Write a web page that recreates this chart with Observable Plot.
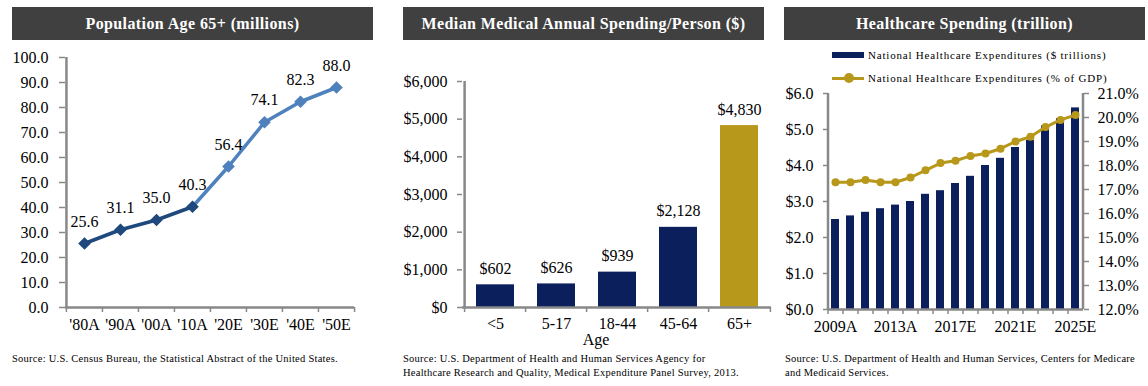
<!DOCTYPE html>
<html><head><meta charset="utf-8">
<script src="https://cdn.jsdelivr.net/npm/d3@7"></script>
<script src="https://cdn.jsdelivr.net/npm/@observablehq/plot@0.6"></script>
<style>
body{margin:0;background:#fff;}
#root{position:relative;width:1148px;height:386px;overflow:hidden;font-family:"Liberation Serif",serif;color:#000;}
.title{position:absolute;top:7px;height:33px;background:#404040;color:#fff;font-weight:bold;font-size:16px;display:flex;align-items:center;justify-content:center;letter-spacing:0.4px;}
.src{position:absolute;font-size:10.5px;line-height:14px;white-space:nowrap;letter-spacing:0.25px;}
svg.panel{position:absolute;top:0;font-family:"Liberation Serif",serif !important;font-size:16px !important;background:transparent !important;overflow:visible !important;}
svg.panel text, svg.panel g{font-family:"Liberation Serif",serif !important;}
.leg{position:absolute;font-size:11px;white-space:nowrap;line-height:14px;letter-spacing:0.8px;}
</style></head>
<body><div id="root"></div>
<script>
// ---------- DATA ----------
const popCats = ["'80A","'90A","'00A","'10A","'20E","'30E","'40E","'50E"];
const popValues = [25.6, 31.1, 35.0, 40.3, 56.4, 74.1, 82.3, 88.0];
const popTicks = [0,10,20,30,40,50,60,70,80,90,100];

const ageCats = ["<5","5-17","18-44","45-64","65+"];
const ageValues = [602, 626, 939, 2128, 4830];
const spendTicks = [0,1000,2000,3000,4000,5000,6000];

const years = ["2009A","2010A","2011A","2012A","2013A","2014A","2015A","2016E","2017E","2018E","2019E","2020E","2021E","2022E","2023E","2024E","2025E"];
const nheTrillions = [2.5, 2.6, 2.7, 2.8, 2.9, 3.0, 3.2, 3.3, 3.5, 3.7, 4.0, 4.2, 4.5, 4.7, 5.1, 5.3, 5.6];
const nhePctGdp = [17.3, 17.3, 17.4, 17.3, 17.3, 17.5, 17.8, 18.1, 18.2, 18.4, 18.5, 18.7, 19.0, 19.2, 19.6, 19.9, 20.1];
const yearTickLabels = ["2009A","2013A","2017E","2021E","2025E"];
const dollarTicks = [0,1,2,3,4,5,6];
const pctTicks = [12,13,14,15,16,17,18,19,20,21];

// ---------- STYLE ----------
const DARK = "#1F497D", LIGHT = "#4F81BD", NAVY = "#0B1F5C", GOLD = "#B8981B", AXIS = "#888888";
const FF = "Liberation Serif";
const root = document.getElementById("root");
const baseStyle = "background:transparent;font-family:'Liberation Serif',serif;font-size:16px;color:#000;overflow:visible;";
const T = {fontFamily: FF, fontSize: 16, fill: "#000"};

function addDiv(cls, css, html) {
  const d = document.createElement("div");
  d.className = cls; Object.assign(d.style, css); d.innerHTML = html; root.appendChild(d); return d;
}
function place(svg, left) {
  svg.classList.add("panel"); svg.style.left = left + "px"; root.appendChild(svg);
}

// ---------- PANEL 1 ----------
{
  const W = 380, ml = 65, mr = 26;
  const step = (W - ml - mr) / popCats.length;
  const data = popCats.map((c,i) => ({cat:c, v:popValues[i], col: i < 4 ? DARK : LIGHT}));
  const svg = Plot.plot({
    width: W, height: 386, marginLeft: ml, marginRight: mr, marginTop: 57, marginBottom: 79,
    style: baseStyle,
    x: {type:"band", domain: popCats, padding: 0, label: null},
    y: {domain:[0,100], label: null},
    color: {type:"identity"},
    marks: [
      Plot.axisY({...T, ticks: popTicks, tickFormat: d => d.toFixed(1), tickSize: 6, tickPadding: 11, stroke: AXIS, strokeWidth: 1.5, label: null}),
      Plot.axisX({tickSize: 5, tickFormat: () => "", dx: -step/2, stroke: AXIS, strokeWidth: 1.5, label: null}),
      Plot.axisX({ticks: [popCats[popCats.length-1]], tickSize: 5, tickFormat: () => "", dx: step/2, stroke: AXIS, strokeWidth: 1.5, label: null}),
      Plot.axisX({...T, tickSize: 0, tickPadding: 11, label: null}),
      Plot.ruleX([popCats[0]], {dx: -step/2, stroke: AXIS, strokeWidth: 2.5}),
      Plot.ruleY([0], {stroke: AXIS, strokeWidth: 2.5}),
      Plot.line(data.slice(3), {x:"cat", y:"v", stroke: LIGHT, strokeWidth: 3.5}),
      Plot.line(data.slice(0,4), {x:"cat", y:"v", stroke: DARK, strokeWidth: 3.5}),
      Plot.dot(data, {x:"cat", y:"v", symbol:"square", rotate:45, r:4.2, fill:"col", stroke:"col"}),
      Plot.text(data, {...T, x:"cat", y:"v", text: d => d.v.toFixed(1), dy: -22})
    ]
  });
  place(svg, 0);
  addDiv("title", {left:"12px", width:"361px"}, "Population Age 65+ (millions)");
  addDiv("src", {left:"12px", top:"352px"}, "Source: U.S. Census Bureau, the Statistical Abstract of the United States.");
}

// ---------- PANEL 2 ----------
{
  const L = 385, W = 390, ml = 77, mr = 4;
  const step = (W - ml - mr) / ageCats.length;
  const data = ageCats.map((c,i) => ({cat:c, v:ageValues[i], col: c === "65+" ? GOLD : NAVY}));
  const svg = Plot.plot({
    width: W, height: 386, marginLeft: ml, marginRight: mr, marginTop: 81, marginBottom: 79,
    style: baseStyle,
    x: {type:"band", domain: ageCats, paddingInner: 0.38, paddingOuter: 0.19, label: null},
    y: {domain:[0,6000], label: null},
    color: {type:"identity"},
    marks: [
      Plot.barY(data, {x:"cat", y:"v", fill:"col"}),
      Plot.axisY({...T, ticks: spendTicks, tickFormat: d => "$" + d3.format(",")(d), tickSize: 5, tickPadding: 10, stroke: AXIS, strokeWidth: 1.5, label: null}),
      Plot.axisX({tickSize: 5, tickFormat: () => "", dx: -step/2, stroke: AXIS, strokeWidth: 1.5, label: null}),
      Plot.axisX({ticks: [ageCats[ageCats.length-1]], tickSize: 5, tickFormat: () => "", dx: step/2, stroke: AXIS, strokeWidth: 1.5, label: null}),
      Plot.axisX({...T, tickSize: 0, tickPadding: 10, label: null}),
      Plot.ruleX([ageCats[0]], {dx: -step/2, stroke: AXIS, strokeWidth: 2.5}),
      Plot.ruleY([0], {stroke: AXIS, strokeWidth: 2.5}),
      Plot.text(data, {...T, x:"cat", y:"v", text: d => "$" + d3.format(",")(d.v), dy: -16}),
      Plot.text(["Age"], {...T, frameAnchor:"bottom", dx: -21, dy: 37})
    ]
  });
  place(svg, L);
  addDiv("title", {left:"403px", width:"361px"}, "Median Medical Annual Spending/Person ($)");
  addDiv("src", {left:"403px", top:"352px"}, "Source: U.S. Department of Health and Human Services Agency for<br>Healthcare Research and Quality, Medical Expenditure Panel Survey, 2013.");
}

// ---------- PANEL 3 ----------
{
  const L = 770, W = 378, ml = 58, mr = 65, mt = 93, mb = 77;
  const step = (W - ml - mr) / years.length;
  const data = years.map((y,i) => ({yr:y, t:nheTrillions[i], p:nhePctGdp[i]}));
  const xOpts = {type:"band", domain: years, paddingInner: 0.45, paddingOuter: 0.225, label: null};
  const bars = Plot.plot({
    width: W, height: 386, marginLeft: ml, marginRight: mr, marginTop: mt, marginBottom: mb,
    style: baseStyle,
    x: xOpts,
    y: {domain:[0,6], label: null},
    marks: [
      Plot.barY(data, {x:"yr", y:"t", fill: NAVY}),
      Plot.axisY({...T, ticks: dollarTicks, tickFormat: d => "$" + d.toFixed(1), tickSize: 5, tickPadding: 10, stroke: AXIS, strokeWidth: 1.5, label: null}),
      Plot.axisX({tickSize: 5, tickFormat: () => "", dx: -step/2, stroke: AXIS, strokeWidth: 1.5, label: null}),
      Plot.axisX({...T, ticks: yearTickLabels, tickSize: 0, tickPadding: 11, label: null}),
      Plot.ruleX([years[0]], {dx: -step/2, stroke: AXIS, strokeWidth: 2.5}),
      Plot.ruleY([0], {stroke: AXIS, strokeWidth: 2.5})
    ]
  });
  place(bars, L);
  const line = Plot.plot({
    width: W, height: 386, marginLeft: ml, marginRight: mr, marginTop: mt, marginBottom: mb,
    style: baseStyle,
    x: {...xOpts, axis: null},
    y: {domain:[12,21], label: null},
    marks: [
      Plot.axisY({...T, anchor:"right", ticks: pctTicks, tickFormat: d => d.toFixed(1) + "%", tickSize: 5, tickPadding: 9, stroke: AXIS, strokeWidth: 1.5, label: null}),
      Plot.ruleX([years[years.length-1]], {dx: step/2, stroke: AXIS, strokeWidth: 2.5}),
      Plot.line(data, {x:"yr", y:"p", stroke: GOLD, strokeWidth: 3}),
      Plot.dot(data, {x:"yr", y:"p", r: 4, fill: GOLD})
    ]
  });
  place(line, L);
  addDiv("title", {left:"784px", width:"361px"}, "Healthcare Spending (trillion)");
  // legend
  addDiv("", {position:"absolute", left:"832px", top:"52px", width:"32px", height:"6px", background:NAVY}, "");
  addDiv("leg", {left:"868px", top:"48px"}, "National Healthcare Expenditures ($ trillions)");
  addDiv("", {position:"absolute", left:"832px", top:"76.5px", width:"32px", height:"3px", background:GOLD}, "");
  addDiv("", {position:"absolute", left:"844px", top:"73px", width:"10px", height:"10px", borderRadius:"50%", background:GOLD}, "");
  addDiv("leg", {left:"868px", top:"71px"}, "National Healthcare Expenditures (% of GDP)");
  addDiv("src", {left:"785px", top:"352px"}, "Source: U.S. Department of Health and Human Services, Centers for Medicare<br>and Medicaid Services.");
}
</script>
</body></html>
